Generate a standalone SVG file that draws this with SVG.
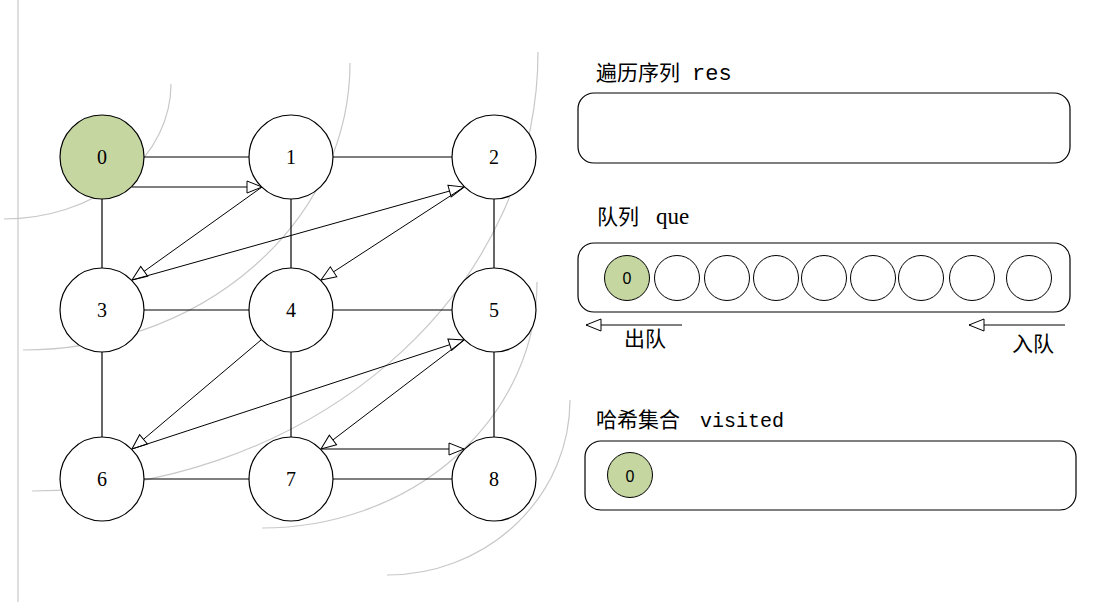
<svg xmlns="http://www.w3.org/2000/svg" width="1120" height="602" viewBox="0 0 1120 602">
<style>
.node{fill:#fff;stroke:#000;stroke-width:1.2}
.lbl{font-family:"Liberation Serif",serif;font-size:20px;text-anchor:middle;fill:#000}
.edge{stroke:#000;stroke-width:1.2;fill:none}
.arr{stroke:#000;stroke-width:1;fill:none;marker-end:url(#tri)}
.arc{stroke:#c8c8c8;stroke-width:1.2;fill:none}
.panel{fill:#fff;stroke:#000;stroke-width:1.2}
.cjk{font-family:"Noto Sans CJK SC",sans-serif;font-size:21px;fill:#000}
.mono{font-family:"Liberation Mono",monospace;fill:#000}
.qc{fill:#fff;stroke:#000;stroke-width:1}
.qlbl{font-family:"Liberation Sans",sans-serif;font-size:16px;text-anchor:middle;fill:#000}
.green{fill:#c5d6a0}
</style>
<defs>
<marker id="tri" viewBox="-1 -1 17 14" refX="15" refY="6" markerWidth="17" markerHeight="14" orient="auto" markerUnits="userSpaceOnUse">
<path d="M0,0 L15,6 L0,12 Z" fill="#fff" stroke="#000" stroke-width="1"/>
</marker>
</defs>
<rect width="1120" height="602" fill="#fff"/>
<g id="layers">
<line x1="18" y1="0" x2="18" y2="602" class="arc"/>
<path class="arc" d="M171,84 A167,135 0 0 1 4,219"/>
<path class="arc" d="M350,63 A327,287 0 0 1 23,350"/>
<path class="arc" d="M538,52 A506,439 0 0 1 32,491"/>
<path class="arc" d="M537,282 A275,246 0 0 1 262,528"/>
<path class="arc" d="M570,400 A183,175 0 0 1 387,575"/>
</g>
<g id="connectors">
<line class="edge" x1="144" y1="157" x2="249" y2="157"/>
<line class="edge" x1="333" y1="157" x2="452" y2="157"/>
<line class="edge" x1="144" y1="310" x2="249" y2="310"/>
<line class="edge" x1="333" y1="310" x2="452" y2="310"/>
<line class="edge" x1="144" y1="479" x2="249" y2="479"/>
<line class="edge" x1="333" y1="479" x2="452" y2="479"/>
<line class="edge" x1="102" y1="199" x2="102" y2="268"/>
<line class="edge" x1="291" y1="199" x2="291" y2="268"/>
<line class="edge" x1="494" y1="199" x2="494" y2="268"/>
<line class="edge" x1="102" y1="352" x2="102" y2="437"/>
<line class="edge" x1="291" y1="352" x2="291" y2="437"/>
<line class="edge" x1="494" y1="352" x2="494" y2="437"/>
<line class="arr" x1="132" y1="187" x2="262" y2="187"/>
<line class="arr" x1="262" y1="187" x2="132" y2="280"/>
<line class="arr" x1="132" y1="280" x2="464" y2="187"/>
<line class="arr" x1="464" y1="187" x2="321" y2="280"/>
<line class="arr" x1="261" y1="340" x2="132" y2="449"/>
<line class="arr" x1="132" y1="449" x2="464" y2="340"/>
<line class="arr" x1="464" y1="340" x2="321" y2="449"/>
<line class="arr" x1="321" y1="449" x2="464" y2="449"/>
<line class="arr" x1="682" y1="325" x2="586" y2="325"/>
<line class="arr" x1="1065" y1="325" x2="969" y2="325"/>
</g>
<g id="n0"><circle class="node green" cx="102" cy="157" r="42"/><text class="lbl" x="102" y="164">0</text></g>
<g id="n1"><circle class="node" cx="291" cy="157" r="42"/><text class="lbl" x="291" y="164">1</text></g>
<g id="n2"><circle class="node" cx="494" cy="157" r="42"/><text class="lbl" x="494" y="164">2</text></g>
<g id="n3"><circle class="node" cx="102" cy="310" r="42"/><text class="lbl" x="102" y="317">3</text></g>
<g id="n4"><circle class="node" cx="291" cy="310" r="42"/><text class="lbl" x="291" y="317">4</text></g>
<g id="n5"><circle class="node" cx="494" cy="310" r="42"/><text class="lbl" x="494" y="317">5</text></g>
<g id="n6"><circle class="node" cx="102" cy="479" r="42"/><text class="lbl" x="102" y="486">6</text></g>
<g id="n7"><circle class="node" cx="291" cy="479" r="42"/><text class="lbl" x="291" y="486">7</text></g>
<g id="n8"><circle class="node" cx="494" cy="479" r="42"/><text class="lbl" x="494" y="486">8</text></g>
<g id="res">
<text x="596" y="80"><tspan class="cjk" font-size="22">遍历序列</tspan><tspan class="mono" x="692" font-size="22">res</tspan></text>
<rect class="panel" x="578" y="93" width="492" height="70" rx="16"/>
</g>
<g id="que">
<text x="597" y="224"><tspan class="cjk" font-size="22">队列</tspan><tspan x="656" font-family="Liberation Serif, serif" font-size="23">que</tspan></text>
<rect class="panel" x="578" y="243" width="492" height="69" rx="16"/>
<circle class="qc green" cx="627" cy="278" r="22.5"/><text class="qlbl" x="627" y="284">0</text>
<circle class="qc" cx="677" cy="278" r="22.5"/>
<circle class="qc" cx="727" cy="278" r="22.5"/>
<circle class="qc" cx="776" cy="278" r="22.5"/>
<circle class="qc" cx="824" cy="278" r="22.5"/>
<circle class="qc" cx="873" cy="278" r="22.5"/>
<circle class="qc" cx="921" cy="278" r="22.5"/>
<circle class="qc" cx="972" cy="278" r="22.5"/>
<circle class="qc" cx="1029" cy="278" r="22.5"/>
<text class="cjk" x="624" y="346" font-size="22">出队</text>
<text class="cjk" x="1012" y="351" font-size="22">入队</text>
</g>
<g id="visited">
<text x="596" y="427"><tspan class="cjk" font-size="22">哈希集合</tspan><tspan class="mono" x="700" font-size="20">visited</tspan></text>
<rect class="panel" x="585" y="441" width="491" height="69" rx="16"/>
<circle class="qc green" cx="630" cy="475" r="22.5"/><text class="qlbl" x="630" y="482" font-size="19">0</text>
</g>
</svg>
